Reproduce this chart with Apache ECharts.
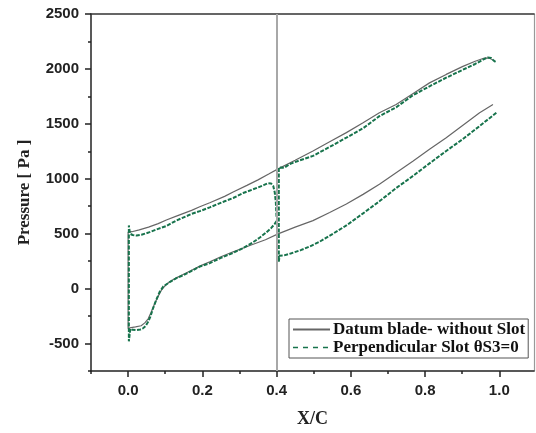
<!DOCTYPE html>
<html>
<head>
<meta charset="utf-8">
<script src="https://cdn.jsdelivr.net/npm/echarts@6/dist/echarts.min.js"></script>
<style>
html,body{margin:0;padding:0;background:#fff;}
#chart{width:536px;height:433px;}
</style>
</head>
<body>
<div id="chart"></div>
<script>
// ---------- Data (X/C, Pressure [Pa]) ----------
// Datum blade - without slot
const datumLowerX = [0, 0.008, 0.02, 0.035, 0.045, 0.054, 0.062, 0.07, 0.08, 0.09, 0.1, 0.112, 0.13, 0.148, 0.17, 0.193, 0.22, 0.25, 0.283, 0.328, 0.37, 0.404, 0.45, 0.498, 0.543, 0.588, 0.633, 0.677, 0.722, 0.768, 0.812, 0.857, 0.902, 0.947, 0.983];
const datumLowerP = [-362, -355, -348, -338, -312, -275, -215, -150, -75, -12, 28, 62, 98, 128, 165, 205, 245, 290, 335, 392, 445, 498, 560, 619, 693, 770, 858, 951, 1055, 1162, 1268, 1374, 1488, 1601, 1676];
const datumUpperX = [0, 0.01, 0.03, 0.055, 0.081, 0.103, 0.13, 0.171, 0.193, 0.22, 0.26, 0.283, 0.32, 0.35, 0.38, 0.404, 0.45, 0.498, 0.543, 0.588, 0.633, 0.677, 0.722, 0.767, 0.812, 0.857, 0.902, 0.935, 0.96, 0.972, 0.982];
const datumUpperP = [514, 518, 535, 560, 592, 625, 660, 712, 745, 782, 840, 880, 940, 990, 1045, 1090, 1168, 1253, 1337, 1420, 1510, 1601, 1676, 1775, 1873, 1950, 2023, 2070, 2099, 2100, 2084];

// Perpendicular slot thetaS3=0 : front part (before slot) and rear part (after slot)
const slotFrontLowerX = [0.002, 0.006, 0.012, 0.023, 0.033, 0.04, 0.047, 0.054, 0.06, 0.067, 0.075, 0.085, 0.095, 0.112, 0.13, 0.148, 0.17, 0.193, 0.22, 0.25, 0.283, 0.31, 0.337, 0.355, 0.373, 0.385, 0.395, 0.4];
const slotFrontLowerP = [-480, -365, -375, -378, -372, -362, -340, -302, -255, -181, -110, -30, 20, 60, 95, 121, 160, 200, 232, 280, 325, 370, 423, 465, 514, 550, 589, 615];
const slotFrontUpperX = [0.002, 0.005, 0.012, 0.023, 0.036, 0.058, 0.081, 0.103, 0.13, 0.171, 0.193, 0.22, 0.26, 0.283, 0.31, 0.35, 0.365, 0.377, 0.385, 0.391, 0.395, 0.398, 0.4];
const slotFrontUpperP = [575, 500, 488, 483, 490, 514, 544, 570, 620, 680, 705, 740, 795, 825, 870, 921, 942, 960, 958, 935, 876, 785, 640];
const slotRearLowerX = [0.406, 0.408, 0.42, 0.44, 0.465, 0.49, 0.515, 0.54, 0.588, 0.633, 0.677, 0.722, 0.768, 0.812, 0.857, 0.902, 0.947, 0.992];
const slotRearLowerP = [245, 300, 302, 322, 350, 385, 425, 475, 575, 685, 795, 915, 1027, 1140, 1253, 1362, 1480, 1601];
const slotRearUpperX = [0.406, 0.41, 0.42, 0.435, 0.46, 0.498, 0.543, 0.588, 0.633, 0.677, 0.722, 0.767, 0.812, 0.857, 0.902, 0.935, 0.956, 0.969, 0.978, 0.985, 0.99];
const slotRearUpperP = [1103, 1087, 1100, 1133, 1165, 1208, 1290, 1374, 1460, 1570, 1650, 1760, 1842, 1920, 1993, 2045, 2084, 2105, 2100, 2075, 2065];

// Axis tick / label values
const xMajorTicks = [0, 0.2, 0.4, 0.6, 0.8, 1.0];
const xMinorTicks = [-0.1, 0.1, 0.3, 0.5, 0.7, 0.9];
const yMajorTicks = [-500, 0, 500, 1000, 1500, 2000, 2500];
const yMinorTicks = [-750, -250, 250, 750, 1250, 1750, 2250];
const slotPosition = 0.404;

const seriesNames = ['Datum blade- without Slot', 'Perpendicular Slot θS3=0'];

// ---------- Build polylines ----------
function pairs(xs, ps) { return xs.map((x, i) => [x, ps[i]]); }
const datumData = pairs(datumLowerX, datumLowerP).reverse().concat(pairs(datumUpperX, datumUpperP));
const slotData = pairs(slotFrontLowerX, slotFrontLowerP).reverse()
  .concat(pairs(slotFrontUpperX, slotFrontUpperP))
  .concat([[null, null]])
  .concat(pairs(slotRearLowerX, slotRearLowerP).reverse())
  .concat(pairs(slotRearUpperX, slotRearUpperP));

const GREEN = '#17734c';
const labelFont = { fontFamily: 'Liberation Sans, Arial, sans-serif', fontWeight: 'bold', fontSize: 15, color: '#222' };
const serifFont = 'Liberation Serif, Times New Roman, serif';

const chart = echarts.init(document.getElementById('chart'), null, { renderer: 'canvas' });
const xMin = -0.1, xMax = 1.0935, yMin = -750, yMax = 2500;

chart.setOption({
  animation: false,
  backgroundColor: '#fff',
  grid: { left: 91, right: 2, top: 14, bottom: 60, containLabel: false },
  legend: {
    orient: 'vertical',
    left: 289, top: 319,
    padding: [2, 3, 2, 3],
    itemGap: 1,
    itemWidth: 37, itemHeight: 10,
    backgroundColor: '#fff',
    borderColor: '#555', borderWidth: 1,
    itemStyle: { opacity: 0 },
    textStyle: { fontFamily: serifFont, fontWeight: 'bold', fontSize: 17, color: '#111', padding: [0, 0, 0, -2] },
    data: [
      { name: seriesNames[0] },
      { name: seriesNames[1], lineStyle: { type: [5, 5], width: 1.5 } }
    ]
  },
  xAxis: [
    {
      type: 'value', position: 'bottom', min: xMin, max: xMax,
      name: 'X/C', nameLocation: 'middle', nameGap: 39,
      nameTextStyle: { fontFamily: serifFont, fontWeight: 'bold', fontSize: 18, color: '#222' },
      axisLine: { show: true, onZero: false, lineStyle: { color: '#222', width: 1.5 } },
      axisTick: { show: true, customValues: xMajorTicks, length: 6, inside: false, lineStyle: { color: '#222', width: 1.5 } },
      axisLabel: { show: true, customValues: xMajorTicks, margin: 12, formatter: v => v.toFixed(1), ...labelFont },
      splitLine: { show: false }
    },
    {
      type: 'value', position: 'bottom', min: xMin, max: xMax,
      axisLine: { show: false, onZero: false },
      axisTick: { show: true, customValues: xMinorTicks, length: 3, lineStyle: { color: '#222', width: 1.5 } },
      axisLabel: { show: false },
      splitLine: { show: false }
    },
    {
      type: 'value', position: 'top', min: xMin, max: xMax,
      axisLine: { show: true, onZero: false, lineStyle: { color: '#333', width: 1.5 } },
      axisTick: { show: false }, axisLabel: { show: false }, splitLine: { show: false }
    }
  ],
  yAxis: [
    {
      type: 'value', position: 'left', min: yMin, max: yMax,
      name: 'Pressure [ Pa ]', nameLocation: 'middle', nameGap: 58,
      nameTextStyle: { fontFamily: serifFont, fontWeight: 'bold', fontSize: 17, color: '#222' },
      axisLine: { show: true, onZero: false, lineStyle: { color: '#222', width: 1.5 } },
      axisTick: { show: true, customValues: yMajorTicks, length: 6, lineStyle: { color: '#222', width: 1.5 } },
      axisLabel: { show: true, customValues: yMajorTicks, margin: 12, formatter: v => String(v), ...labelFont },
      splitLine: { show: false }
    },
    {
      type: 'value', position: 'left', min: yMin, max: yMax,
      axisLine: { show: false, onZero: false },
      axisTick: { show: true, customValues: yMinorTicks, length: 3, lineStyle: { color: '#222', width: 1.5 } },
      axisLabel: { show: false }, splitLine: { show: false }
    },
    {
      type: 'value', position: 'right', min: yMin, max: yMax,
      axisLine: { show: true, onZero: false, lineStyle: { color: '#999', width: 1.2 } },
      axisTick: { show: false }, axisLabel: { show: false }, splitLine: { show: false }
    }
  ],
  series: [
    {
      name: seriesNames[0], type: 'line', xAxisIndex: 0, yAxisIndex: 0,
      data: datumData, showSymbol: false, symbol: 'none', smooth: false,
      color: '#666',
      lineStyle: { color: '#666', width: 1.2 },
      markLine: {
        silent: true, symbol: 'none', label: { show: false },
        lineStyle: { color: '#a8a8a8', width: 2, type: 'solid' },
        data: [{ xAxis: slotPosition }]
      },
      z: 3
    },
    {
      name: seriesNames[1], type: 'line', xAxisIndex: 0, yAxisIndex: 0,
      data: slotData, connectNulls: false, showSymbol: false, symbol: 'none',
      color: GREEN,
      lineStyle: { color: GREEN, width: 2, type: [4, 1.5] },
      z: 4
    }
  ]
});
</script>
</body>
</html>
